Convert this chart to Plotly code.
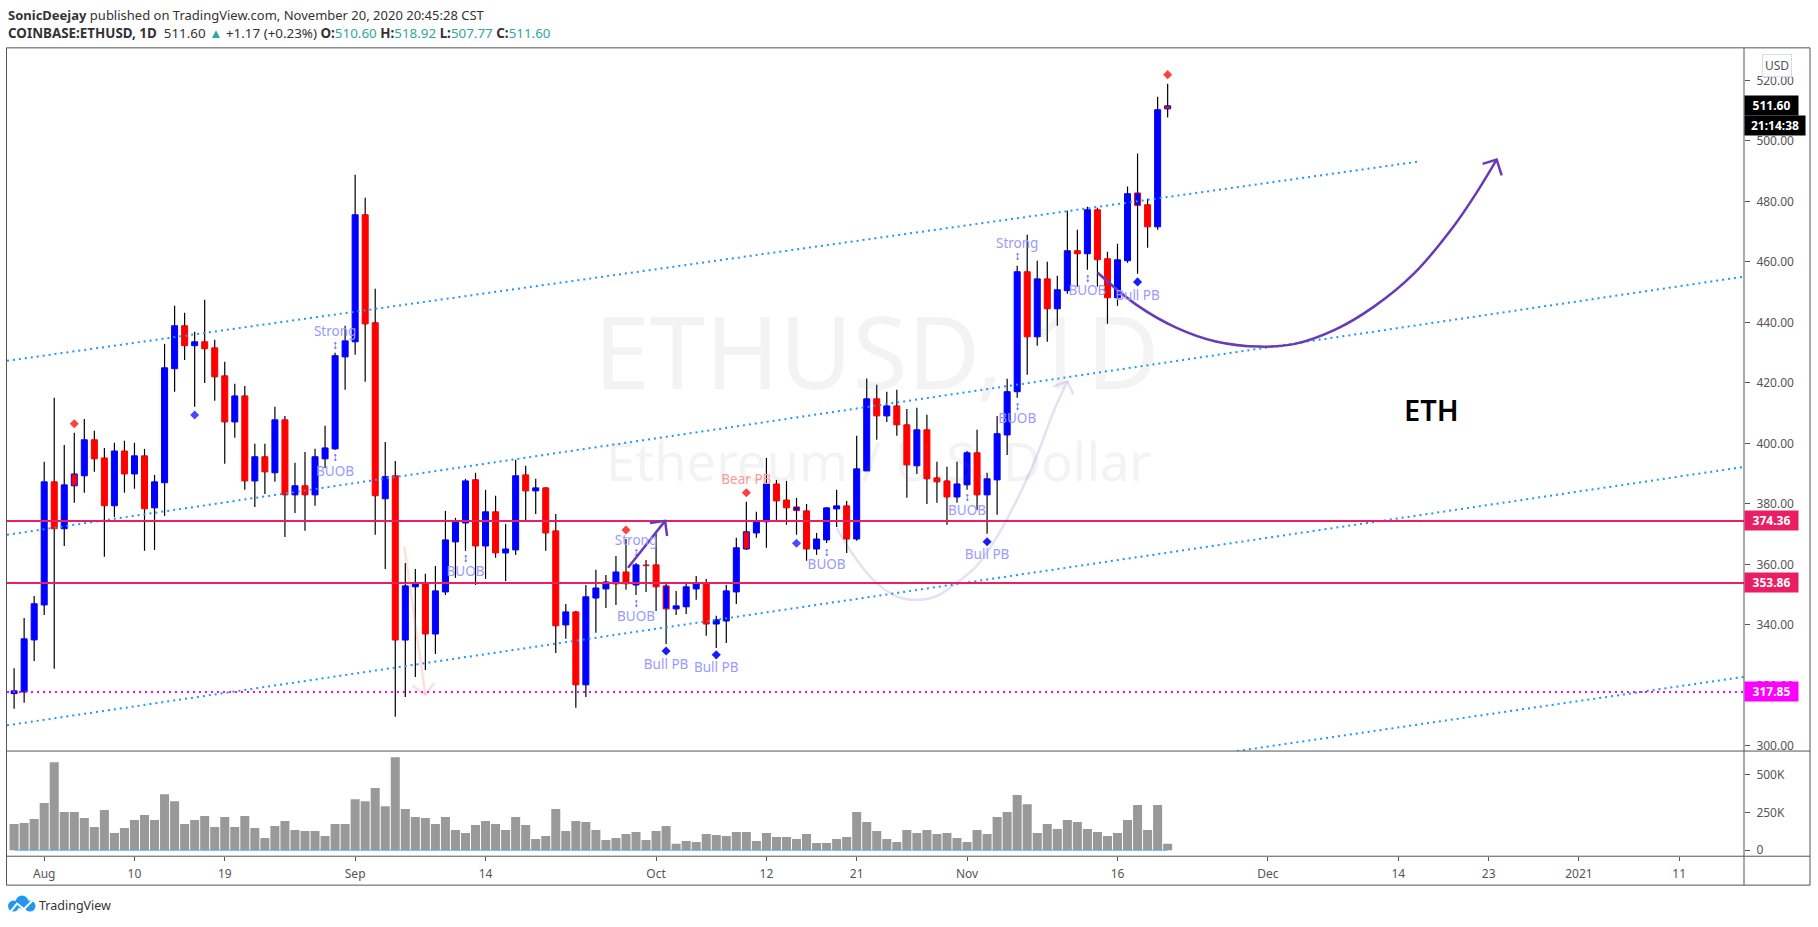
import pandas as pd
import plotly.graph_objects as go

# ---------- data ----------
FIRST_DAY = "2020-07-29"
open_prices = [317.3,317.85,335.05,346.6,387.3,371.8,389.9,389.3,401.2,395.2,
 379.4,397.5,389.9,395.9,378.7,387.0,424.7,438.9,432.3,433.6,
 431.6,422.35,407.1,415.7,387.6,395.6,390.3,407.8,383.0,386.0,
 383.0,394.9,398.2,428.6,433.6,475.6,439.9,381.7,389.3,335.0,
 352.6,353.6,337.0,350.9,367.45,373.7,388.0,366.1,377.4,363.8,
 364.8,389.6,384.3,385.3,371.1,340.0,344.3,320.2,348.9,351.9,
 353.6,357.5,353.2,359.8,359.85,345.3,345.3,346.0,351.9,353.9,
 340.3,341.3,350.9,370.8,370.4,374.1,386.6,381.3,377.8,377.7,
 365.1,368.1,378.35,379.35,368.4,390.9,414.75,409.1,412.4,406.15,
 392.6,404.5,388.6,387.6,382.3,386.3,396.9,383.0,387.95,402.8,
 417.1,456.75,435.25,454.4,444.5,450.5,463.7,462.7,477.25,461.05,
 448.15,460.4,478.7,478.9,471.6,510.6]
close_prices = [318.2,335.4,347.0,387.3,371.8,386.3,386.0,401.2,394.9,379.4,
 397.5,389.9,395.9,378.4,387.3,425.0,438.9,432.3,433.6,431.3,
 422.0,407.1,415.7,387.6,395.6,390.6,407.8,383.0,386.0,383.0,
 395.6,398.5,429.0,433.9,475.6,439.5,382.7,389.0,335.0,352.9,
 353.6,337.0,351.25,368.1,374.1,387.6,366.1,377.4,363.8,365.1,
 389.3,384.3,385.3,370.4,339.7,344.3,320.2,349.3,352.2,354.2,
 357.5,353.6,359.85,359.6,352.6,352.9,346.3,352.6,353.6,340.3,
 341.7,351.25,365.5,365.1,374.4,386.6,381.0,378.7,379.0,365.1,
 368.4,378.7,379.35,368.4,391.6,414.75,409.1,412.4,406.15,392.9,
 404.5,388.3,387.3,382.3,386.6,396.9,383.0,388.3,403.2,417.1,
 456.75,435.25,454.4,444.5,450.8,463.7,462.7,477.25,460.7,448.15,
 460.7,482.55,482.8,471.6,510.3,511.6]
high_prices = [325.7,342.3,349.6,393.9,415.1,399.5,403.5,408.1,404.2,398.5,
 400.2,400.9,400.2,398.2,389.6,432.9,445.5,443.2,436.9,447.5,
 434.25,427.0,419.7,419.0,399.9,399.9,412.1,409.1,393.6,397.2,
 398.2,405.8,430.0,438.9,488.8,481.2,451.1,400.5,394.2,360.5,
 358.5,356.9,359.5,377.7,375.4,388.3,390.3,384.65,382.7,373.4,
 394.6,392.6,388.3,385.5,376.7,346.95,344.6,353.2,358.2,356.5,
 362.8,368.4,360.5,361.5,370.1,354.2,351.25,354.2,356.2,355.2,
 343.0,353.2,368.8,380.7,377.4,395.2,387.95,387.6,382.0,380.0,
 370.4,379.0,384.65,381.0,402.5,421.5,419.4,417.1,417.7,411.4,
 411.8,409.5,393.9,392.3,393.9,397.5,404.5,390.3,409.1,421.4,
 458.7,469.0,460.4,460.05,455.4,476.9,470.6,478.2,477.9,463.4,
 466.0,484.9,495.8,480.9,514.6,518.92]
low_prices = [312.3,314.3,328.1,343.3,325.5,366.1,380.4,383.7,390.6,362.5,
 375.7,383.7,385.0,364.5,364.8,376.05,417.1,427.6,412.1,420.0,
 414.1,393.25,401.85,384.65,379.0,383.3,387.3,369.1,377.0,371.1,
 379.4,391.9,397.9,417.7,429.3,420.4,369.8,358.5,309.6,316.2,
 322.8,325.1,330.4,349.9,355.55,364.5,353.2,355.2,362.2,354.55,
 363.15,374.7,376.7,364.5,330.75,335.4,312.6,316.2,337.4,345.6,
 346.6,351.6,349.9,350.9,344.6,333.7,343.3,343.6,348.3,336.4,
 332.4,334.05,346.95,364.8,368.8,365.5,374.1,373.1,369.8,361.2,
 363.15,367.1,372.4,363.8,367.8,390.9,401.2,407.1,402.5,382.0,
 389.9,380.0,380.4,373.1,380.4,384.65,378.0,370.1,376.4,396.2,
 415.1,422.7,432.3,433.6,438.9,449.5,451.8,457.4,451.8,439.55,
 445.5,459.7,456.1,464.7,470.6,507.77]
volume_k = [173,180,206,311,580,252,252,212,153,265,114,147,199,232,199,370,324,173,199,226,
 153,219,153,226,147,81,160,193,134,127,127,94,173,173,337,324,410,291,613,272,
 219,212,173,219,134,114,166,193,173,134,219,166,74,94,272,127,193,186,134,68,
 81,107,120,68,127,160,42,61,55,107,101,94,120,120,61,114,88,88,74,107,
 48,48,74,88,252,186,127,74,55,134,114,134,107,114,81,55,134,107,219,252,
 364,304,114,173,140,199,186,140,120,94,114,199,298,134,298,42]
outlined_dates = ["2020-08-04","2020-10-02","2020-10-10","2020-10-15","2020-11-18","2020-11-21"]

x_tick_dates = ["2020-08-01","2020-08-10","2020-08-19","2020-09-01","2020-09-14","2020-10-01","2020-10-12",
                "2020-10-21","2020-11-01","2020-11-16","2020-12-01","2020-12-14","2020-12-23","2021-01-01","2021-01-11"]
x_tick_labels = ["Aug","10","19","Sep","14","Oct","12","21","Nov","16","Dec","14","23","2021","11"]
price_ticks = [300,320,340,360,380,400,420,440,460,480,500,520]
volume_ticks = [0,250,500]
volume_tick_labels = ["0","250K","500K"]

level_red = [374.36, 353.86]
level_magenta = 317.85
last_price = 511.60

channel_a_x = ["2020-07-28 07:00","2020-12-15 20:38"]; channel_a_y = [427.3,493.1]
channel_b_x = ["2020-07-28 07:00","2021-01-18 00:00"]; channel_b_y = [369.8,455.4]
channel_c_x = ["2020-07-28 07:00","2021-01-18 00:00"]; channel_c_y = [306.8,392.5]
channel_d_x = ["2020-11-27 22:00","2021-01-18 00:00"]; channel_d_y = [298.3,323.1]

big_curve_days = [105.0,108.9,112.9,116.8,121.2,124.7,128.7,132.6,136.6,140.5,142.8,144.8]
big_curve_prices = [456.5,445.8,438.2,433.7,432.0,432.9,437.6,445.3,456.3,471.7,482.9,493.8]
big_head_days = [143.4,144.8,145.3]; big_head_prices = [492.4,493.8,488.6]
faint_curve_days = [79.0,81.0,83.0,85.0,86.9,88.9,90.9,92.9,94.8,96.8,98.8,100.7,102.0]
faint_curve_prices = [372.0,361.5,353.8,349.4,348.3,349.4,353.8,359.3,368.1,380.2,394.6,411.1,420.5]
faint_head_days = [100.6,102.0,102.6]; faint_head_prices = [418.8,420.5,416.2]
small_arrow_days = [58.2,61.9]; small_arrow_prices = [358.9,374.4]
small_head_days = [60.4,61.9,62.1]; small_head_prices = [373.7,374.4,369.4]
pink_arrow_days = [35.9,38.0]; pink_arrow_prices = [365.9,316.9]
pink_head_days = [36.7,38.0,38.9]; pink_head_prices = [320.0,316.9,320.8]

signal_text = ["Strong","BUOB","BUOB","Strong","BUOB","Bull PB","Bull PB","BUOB","BUOB","Bull PB","BUOB","Strong","BUOB","Bull PB"]
signal_dates = ["2020-08-30","2020-08-30","2020-09-12","2020-09-29","2020-09-29","2020-10-02","2020-10-07",
                "2020-10-18","2020-11-01","2020-11-03","2020-11-06","2020-11-06","2020-11-13","2020-11-18"]
signal_prices = [436.6,390.3,357.2,367.5,342.3,326.4,325.4,359.5,377.4,362.8,407.8,465.7,450.1,448.5]
bear_text = ["Bear PB"]; bear_dates = ["2020-10-10"]; bear_prices = [387.6]
tick_glyph_dates = ["2020-08-30","2020-08-30","2020-09-12","2020-09-29","2020-09-29","2020-10-18","2020-11-01","2020-11-06","2020-11-06","2020-11-13"]
tick_glyph_prices = [432.3,395.2,361.8,363.8,346.9,363.8,382.0,412.1,461.7,454.4]
blue_diamond_dates = ["2020-10-02","2020-10-07","2020-11-03","2020-11-18"]
blue_diamond_prices = [331.4,330.1,367.5,453.4]
pale_diamond_dates = ["2020-08-16","2020-10-15"]
pale_diamond_prices = [409.4,367.0]
red_diamond_dates = ["2020-08-04","2020-09-28","2020-10-10","2020-11-21"]
red_diamond_prices = [406.5,371.4,383.7,521.9]

# ---------- derived ----------
W, H = 1818, 927
FONT = "Noto Sans"
GREY = "#555555"
FRAME = "#555555"
PANE_TOP, PANE_SPLIT, PANE_BOTTOM, FRAME_BOTTOM = 48, 753.5, 859, 888
def fx(p): return p / W
def fy(p): return 1 - p / H
origin = pd.Timestamp("2020-08-01")
def day_dates(days): return [origin + pd.Timedelta(days=float(d)) for d in days]

dates = pd.date_range(FIRST_DAY, periods=len(open_prices), freq="D")
body_low = [min(o, c) for o, c in zip(open_prices, close_prices)]
body_height = [abs(c - o) for o, c in zip(open_prices, close_prices)]
fills = ["#0000ff" if c >= o else "#ff0000" for o, c in zip(open_prices, close_prices)]
fills[-1] = "#ff0000"  # last bar is painted red inside a blue outline in the picture
marked = set(pd.to_datetime(outlined_dates))
outlines = [("#ff0000" if f == "#0000ff" else "#0000ff") if d in marked else f for d, f in zip(dates, fills)]

wick_x, wick_y = [], []
for d, h, l, b, t in zip(dates, high_prices, low_prices, body_low, body_height):
    wick_x += [d, d, None, d, d, None]
    wick_y += [h, b + t, None, b, l, None]

DAY_MS = 86400000
fig = go.Figure()
fig.add_trace(go.Bar(x=dates, y=body_height, base=body_low, width=[0.6*DAY_MS]*len(dates),
                     marker=dict(color=fills, line=dict(color=outlines, width=1)), yaxis="y", xaxis="x"))
fig.add_trace(go.Bar(x=dates, y=volume_k, width=[0.9*DAY_MS]*len(dates),
                     marker=dict(color="#999999", line=dict(width=0)), yaxis="y2", xaxis="x"))
fig.add_trace(go.Scatter(x=dates, y=[0]*len(dates), mode="lines", line=dict(color="#5ab4dc", width=1), yaxis="y2"))
fig.add_trace(go.Scatter(x=wick_x, y=wick_y, mode="lines", line=dict(color="#000000", width=1.2), connectgaps=False))

def line(x, y, color, width=2, dash=None, shape="linear"):
    fig.add_trace(go.Scatter(x=x, y=y, mode="lines", line=dict(color=color, width=width, dash=dash, shape=shape), yaxis="y"))

for cx, cy in [(channel_a_x, channel_a_y), (channel_b_x, channel_b_y), (channel_c_x, channel_c_y), (channel_d_x, channel_d_y)]:
    line(cx, cy, "#2196f3", 2, "2px,4px")
edge = ["2020-07-28 07:00", "2021-01-17 11:00"]
for lv in level_red:
    line(edge, [lv, lv], "#e91e63", 2.2)
line(edge, [level_magenta]*2, "#ff00ff", 2, "2px,4px")

PURPLE = "#673ab7"
FAINT = "rgba(103,58,183,0.16)"
PINK = "rgba(255,110,90,0.22)"
line(day_dates(faint_curve_days), faint_curve_prices, FAINT, 2.5, shape="spline")
line(day_dates(faint_head_days), faint_head_prices, FAINT, 2.5)
line(day_dates(pink_arrow_days), pink_arrow_prices, PINK, 2.5)
line(day_dates(pink_head_days), pink_head_prices, PINK, 2.5)
line(day_dates(small_arrow_days), small_arrow_prices, PURPLE, 2.5)
line(day_dates(small_head_days), small_head_prices, PURPLE, 2.5)
line(day_dates(big_curve_days), big_curve_prices, PURPLE, 2.5, shape="spline")
line(day_dates(big_head_days), big_head_prices, PURPLE, 2.5)

def diamonds(x, y, color):
    fig.add_trace(go.Scatter(x=x, y=y, mode="markers", marker=dict(symbol="diamond", size=7, color=color, line=dict(width=0))))
diamonds(blue_diamond_dates, blue_diamond_prices, "#1a1aff")
diamonds(pale_diamond_dates, pale_diamond_prices, "#4a4aff")
diamonds(red_diamond_dates, red_diamond_prices, "#ff4040")

def labels(x, y, text, color, size=13.5):
    fig.add_trace(go.Scatter(x=x, y=y, mode="text", text=text, textposition="middle center",
                             textfont=dict(family=FONT, size=size, color=color)))
labels(signal_dates, signal_prices, signal_text, "#9a9aff")
labels(bear_dates, bear_prices, bear_text, "#ff9a9a")
labels(tick_glyph_dates, tick_glyph_prices, ["↕"]*len(tick_glyph_dates), "#3a3aff", 12)

annotations = []
def note(text, x, y, xref="paper", yref="paper", **kw):
    base = dict(text=text, x=x, y=y, xref=xref, yref=yref, showarrow=False, xshift=0,
                font=dict(family=FONT, size=13, color="#333333"), xanchor="left", yanchor="middle",
                borderpad=0)
    base.update(kw)
    annotations.append(base)

TEAL = "#2fa89a"
DARK = "#333333"
def teal(s): return f'<span style="color:{TEAL}">{s}</span>'
note("<b>SonicDeejay</b> published on TradingView.com, November 20, 2020 20:45:28 CST", fx(7), fy(15))
note(f"<b>COINBASE:ETHUSD, 1D</b>  511.60 {teal('▲')} +1.17 (+0.23%) <b>O:</b>{teal('510.60')} "
     f"<b>H:</b>{teal('518.92')} <b>L:</b>{teal('507.77')} <b>C:</b>{teal('511.60')}",
     fx(7), fy(33), font=dict(family=FONT, size=13.4, color=DARK))
note("TradingView", fx(38), fy(908), font=dict(family=FONT, size=12.5, color=DARK))
note("ETHUSD, 1D", fx(876), fy(351), xanchor="center", font=dict(family=FONT, size=100, color="rgba(120,120,120,0.09)"))
note("Ethereum / U.S. Dollar", fx(878), fy(462), xanchor="center", font=dict(family=FONT, size=52.5, color="rgba(120,120,120,0.09)"))
note("ETH", fx(1431), fy(411), xanchor="center", font=dict(family=FONT, size=29, color="#000000", weight=600))

def tag(text, price, color, yshift=0, width=50):
    note(f"<b>{text}</b>", fx(1744), price, yref="y", yshift=yshift, bgcolor=color, width=width, height=16, borderpad=1.5,
         align="center", font=dict(family=FONT, size=12, color="#ffffff"))
for lv in level_red:
    tag(f"{lv:.2f}", lv, "#e91e63")
tag(f"{level_magenta:.2f}", level_magenta, "#ff00ff")
tag(f"{last_price:.2f}", last_price, "#000000")
tag("21:14:38", last_price, "#000000", yshift=-20, width=57)
note("USD", fx(1777), fy(65.5), xanchor="center", font=dict(family=FONT, size=12, color=GREY),
     bgcolor="#ffffff", bordercolor="#d8d8ee", borderwidth=1, borderpad=2)

shapes = []
def seg(x0, y0, x1, y1):
    shapes.append(dict(type="line", xref="paper", yref="paper", x0=fx(x0), y0=fy(y0), x1=fx(x1), y1=fy(y1),
                       line=dict(color=FRAME, width=1)))
for py in (PANE_TOP, PANE_SPLIT, PANE_BOTTOM, FRAME_BOTTOM):
    seg(6.5, py, 1810, py)
for px in (6.5, 1744, 1810):
    seg(px, PANE_TOP, px, FRAME_BOTTOM)

# TradingView cloud logo
def circle(cx, cy, r):
    shapes.append(dict(type="circle", xref="paper", yref="paper", x0=fx(cx-r), x1=fx(cx+r), y0=fy(cy+r), y1=fy(cy-r),
                       fillcolor="#2196f3", line=dict(width=0)))
circle(22, 905, 6.5); circle(13.5, 909, 5.5); circle(30, 909, 5.5)
zig = [(11, 914), (17, 906.5), (24, 912), (33, 903)]
path = "M" + " L".join(f"{fx(a):.6f},{fy(b):.6f}" for a, b in zig)
shapes.append(dict(type="path", xref="paper", yref="paper", path=path, line=dict(color="#ffffff", width=2)))

axfont = dict(family=FONT, size=12, color=GREY)
fig.update_layout(
    width=W, height=H, margin=dict(l=0, r=0, t=0, b=0), autosize=False,
    paper_bgcolor="#ffffff", plot_bgcolor="#ffffff", showlegend=False, barmode="overlay", hovermode=False,
    font=dict(family=FONT),
    annotations=annotations, shapes=shapes,
    xaxis=dict(type="date", domain=[fx(7), fx(1744)], anchor="y2", range=edge,
               tickmode="array", tickvals=x_tick_dates, ticktext=x_tick_labels, tickangle=0,
               ticks="outside", ticklen=4, tickcolor=GREY, tickfont=axfont, ticklabelstandoff=2,
               showgrid=False, zeroline=False, showline=False),
    yaxis=dict(domain=[fy(PANE_SPLIT), fy(PANE_TOP)], range=[298.3, 530.77], anchor="x", side="right",
               tickmode="array", tickvals=price_ticks, tickformat=".2f",
               ticks="outside", ticklen=5, tickcolor=GREY, tickfont=axfont, ticklabelstandoff=4,
               showgrid=False, zeroline=False, showline=False),
    yaxis2=dict(domain=[fy(PANE_BOTTOM), fy(PANE_SPLIT)], range=[-39.5, 654.6], anchor="x", side="right",
                tickmode="array", tickvals=volume_ticks, ticktext=volume_tick_labels,
                ticks="outside", ticklen=5, tickcolor=GREY, tickfont=axfont, ticklabelstandoff=4,
                showgrid=False, zeroline=False, showline=False),
)

fig.write_html("out.html", config=dict(displayModeBar=False),
               post_script="document.body.style.margin='0';document.body.style.overflow='hidden';")
